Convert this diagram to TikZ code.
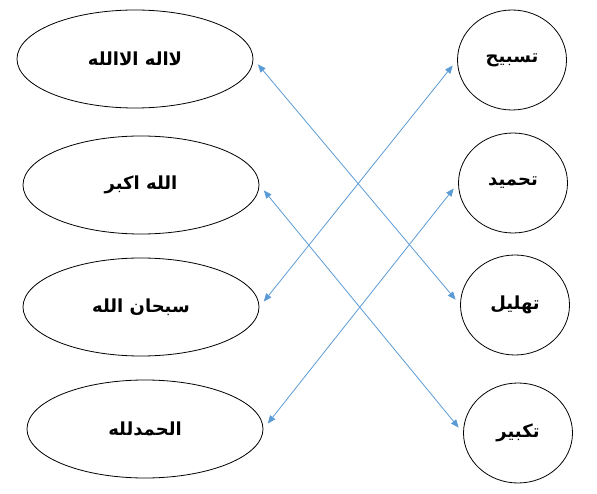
\documentclass[tikz,border=0pt]{standalone}
\usepackage{fontspec}
\usetikzlibrary{shapes.geometric,arrows.meta}
\newfontfamily\arabicfont[Script=Arabic]{DejaVu Sans}
\TeXXeTstate=1
\definecolor{linkblue}{RGB}{91,155,213}
\newcommand{\ar}[1]{{\arabicfont\bfseries\beginR #1\endR}}

\begin{document}
\begin{tikzpicture}[x=1pt, y=-1pt,
    phrase/.style={ellipse, draw=black, line width=0.8pt, inner sep=0pt,
        minimum width=236pt, minimum height=98pt, font=\fontsize{18}{21}\selectfont},
    term/.style={ellipse, draw=black, line width=0.8pt, inner sep=0pt,
        minimum width=109pt, minimum height=100pt, font=\fontsize{18}{21}\selectfont},
    link/.style={draw=linkblue, line width=0.8pt,
        {Triangle[length=8pt,width=6.5pt]}-{Triangle[length=8pt,width=6.5pt]},
        shorten <=7pt, shorten >=7pt}
]
\useasboundingbox (0,0) rectangle (597,494);
% left column
\node[phrase] (lailaha) at (135,59) {\ar{لااله الاالله}};
\node[phrase] (akbar) at (141,185) {\ar{الله اكبر}};
\node[phrase] (subhan) at (141,307) {\ar{سبحان الله}};
\node[phrase] (hamd) at (145,429) {\ar{الحمدلله}};
% right column
\node[term] (tasbih) at (512,60) {\ar{تسبيح}};
\node[term] (tahmid) at (513,183) {\ar{تحميد}};
\node[term] (tahlil) at (515,305) {\ar{تهليل}};
\node[term] (takbir) at (518,433) {\ar{تكبير}};
% links
\draw[link] (tasbih.west) -- (subhan.east);
\draw[link] (lailaha.east) -- (tahlil.west);
\draw[link] (akbar.east) -- (takbir.west);
\draw[link] (tahmid.west) -- (hamd.east);
\end{tikzpicture}
\end{document}
